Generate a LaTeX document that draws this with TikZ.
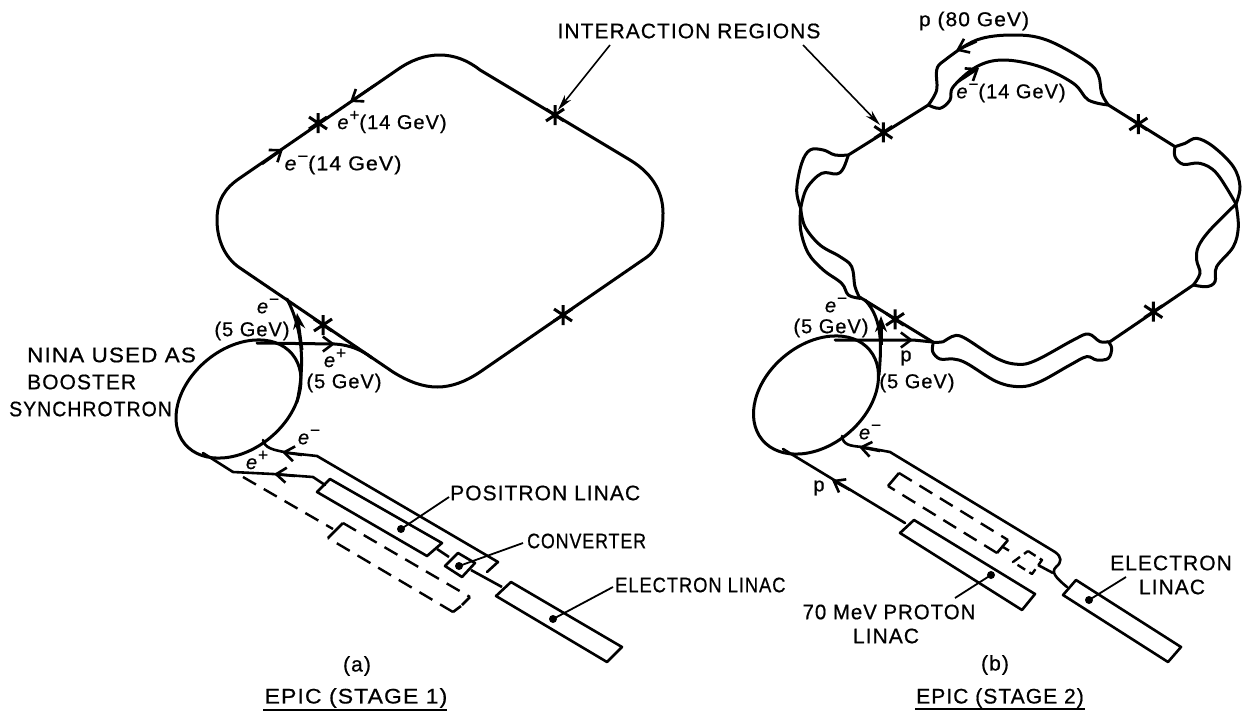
\documentclass[tikz,border=0pt]{standalone}
\usepackage{fontspec}
\setmainfont[LetterSpace=5,FakeBold=0.7]{Liberation Sans}
\usetikzlibrary{arrows.meta,calc}
\newcommand{\elec}[1]{\textit{e}\raisebox{.42em}{\fontsize{17}{17}\selectfont #1}}
\newcommand{\xmark}[1]{\draw[crossmark] ($(#1)+(0,-10)$) -- ($(#1)+(0,10)$) ($(#1)+(-9,-6)$) -- ($(#1)+(9,6)$) ($(#1)+(-9,6)$) -- ($(#1)+(9,-6)$);}
\newcommand{\sx}[2]{\scalebox{#1}[1]{#2}}
\tikzset{
  beam/.style={line width=3pt,line join=round,line cap=round},
  thinbeam/.style={line width=2.6pt,line join=round,line cap=round},
  linac/.style={line width=2.6pt,line join=round},
  dashbox/.style={line width=2.4pt,dash pattern=on 15pt off 9pt,line join=round},
  leader/.style={line width=1.8pt},
  crossmark/.style={line width=3pt},
  barb/.style={line width=2.6pt,-{Straight Barb[length=10pt,width=15pt,line width=2.6pt]}},
  heavy/.style={line width=3pt,-{Stealth[length=16pt,width=12pt]}},
  pointer/.style={line width=1.6pt,-{Stealth[length=16pt,width=8pt]}},
  lbl/.style={font=\fontsize{21}{21}\selectfont,inner sep=0pt},
  small/.style={font=\fontsize{20}{20}\selectfont,inner sep=0pt},
  dotpt/.style={fill=black},
}
\begin{document}
\begin{tikzpicture}[x=1pt,y=-1pt]
\path[use as bounding box] (0,0) rectangle (1258,718);

% ---------- Stage 1 main ring
\draw[beam] (240,178) -- (397,70) .. controls (425,50) and (455,50) .. (480,70)
  -- (630,160) .. controls (655,175) and (663,195) .. (663,213)
  .. controls (663,232) and (660,247) .. (647,257) -- (480,372)
  .. controls (450,392) and (425,392) .. (393,372) -- (240,268)
  .. controls (225,258) and (217,240) .. (217,220)
  .. controls (217,200) and (225,188) .. (240,178) -- cycle;
\coordinate (xa1) at (318,123); \coordinate (xa2) at (555,115);
\coordinate (xa3) at (323,325); \coordinate (xa4) at (563,315);
\xmark{xa1}\xmark{xa2}\xmark{xa3}\xmark{xa4}
\coordinate (aa1) at (375,85); \coordinate (aa2) at (350,102);
\coordinate (ab1) at (262,164); \coordinate (ab2) at (283,149);
\draw[barb] (aa1) -- (aa2);
\draw[barb] (ab1) -- (ab2);

% ---------- Stage 1 booster
\coordinate (ninaA) at (238.5,399);
\draw[beam] (ninaA) ellipse [x radius=70,y radius=50,rotate=40];
\coordinate (ea1) at (257,343); \coordinate (ea2) at (335,344); \coordinate (ea3) at (372,358);
\draw[beam] (ea1) -- (ea2) .. controls (350,345) and (362,350) .. (ea3);
\draw[barb] (300,344) -- (ea2);
\coordinate (eb1) at (297,402); \coordinate (eb2) at (287,299);
\draw[beam] (eb1) .. controls (303,375) and (306,335) .. (eb2);
\draw[heavy] (302,350) -- (297,313);

% ---------- Stage 1 lines
\draw[thinbeam] (263,440) .. controls (265,448) and (272,450) .. (290,453) -- (317,456) -- (498,562) -- (487,572);
\draw[barb] (302,455) -- (282,452);
\draw[thinbeam] (203,453) -- (233,472) -- (273,474) -- (313,477) -- (325,485);
\draw[barb] (295,476) -- (274,474);
\draw[linac] (330,479) -- (442,543) -- (427,556) -- (317,492) -- cycle;
\draw[linac] (437,549) -- (449,557);
\draw[linac] (458,553) -- (475,563) -- (462,577) -- (445,566) -- cycle;
\draw[linac] (471,570) -- (502,587);
\draw[linac] (511,582) -- (622,647) -- (607,662) -- (496,596) -- cycle;
\draw[dashbox] (243,477) -- (333,529);
\draw[linac] (343,523) -- (328,538);
\draw[dashbox] (343,523) -- (470,597);
\draw[linac] (470,597) -- (462,605);
\draw[linac] (453,612) -- (461,606);
\draw[dashbox] (453,612) -- (328,538);

\coordinate (d1) at (401,529); \coordinate (l1) at (449,497);
\coordinate (d2) at (459,566); \coordinate (l2) at (523,543);
\coordinate (d3) at (553,619); \coordinate (l3) at (613,587);
\fill[dotpt] (d1) circle (4) (d2) circle (4) (d3) circle (4);
\draw[leader] (d1) -- (l1);
\draw[leader] (d2) -- (l2);
\draw[leader] (d3) -- (l3);

% ---------- Stage 2 ring (zoom coordinates)
\begin{scope}[shift={(780,0)},x=0.33333pt,y=-0.33333pt]
\draw[beam] (205,465) -- (445,315);
\draw[beam] plot[smooth,tension=0.6] coordinates {(445,315) (470,270) (470,210) (495,180) (590,120) (700,105) (800,120) (920,185) (955,225) (965,280) (985,315)};
\draw[beam] plot[smooth,tension=0.6] coordinates {(445,315) (480,325) (510,300) (520,260) (590,200) (670,180) (780,200) (880,250) (925,300) (985,315)};
\draw[beam] (985,315) -- (1185,440);
\draw[beam] plot[smooth,tension=0.6] coordinates {(1185,440) (1215,430) (1250,415) (1300,440) (1360,500) (1380,560) (1368,612)};
\draw[beam] plot[smooth,tension=0.6] coordinates {(1185,440) (1185,470) (1210,493) (1260,490) (1310,520) (1368,612)};
\draw[beam] plot[smooth,tension=0.6] coordinates {(1368,612) (1375,680) (1360,740) (1310,800) (1305,845) (1280,860) (1240,855)};
\draw[beam] plot[smooth,tension=0.6] coordinates {(1368,612) (1290,690) (1255,740) (1250,780) (1260,820) (1240,855)};
\draw[beam] (1240,855) -- (990,1025);
\draw[beam] plot[smooth,tension=0.6] coordinates {(240,895) (225,860) (215,800) (180,770) (120,735) (75,680) (62,625)};
\draw[beam] plot[smooth,tension=0.6] coordinates {(240,895) (205,885) (185,850) (130,810) (85,760) (62,690) (62,625)};
\draw[beam] plot[smooth,tension=0.6] coordinates {(62,625) (50,570) (65,490) (90,450) (130,450) (165,465) (205,465)};
\draw[beam] plot[smooth,tension=0.6] coordinates {(62,625) (80,565) (125,520) (170,522) (190,505) (205,465)};
\coordinate (xb1) at (310,397); \coordinate (xb2) at (1075,372);
\coordinate (xb3) at (1120,935); \coordinate (xb4) at (345,958);
\coordinate (ba1) at (590,124); \coordinate (ba2) at (528,152);
\coordinate (bb1) at (530,248); \coordinate (bb2) at (597,204);
\end{scope}
\xmark{xb1}\xmark{xb2}\xmark{xb3}\xmark{xb4}
\draw[barb] (ba1) -- (ba2);
\draw[barb] (bb1) -- (bb2);

% ---------- Stage 2 lower straight and junctions
\begin{scope}[shift={(780,280)},x=0.33333pt,y=-0.33333pt]
\draw[beam] plot[smooth,tension=0.6] coordinates {(985,185) (960,185) (925,162) (880,180) (770,240) (715,253) (650,235) (550,172) (515,170) (490,185) (460,187)};
\draw[beam] plot[smooth,tension=0.6] coordinates {(985,185) (995,205) (985,235) (950,240) (920,230) (870,255) (780,305) (720,320) (650,305) (560,250) (520,237) (480,237) (458,215) (460,187)};
\draw[beam] (460,187) -- (240,52);
\end{scope}

% ---------- Stage 2 booster
\coordinate (ninaB) at (816,395);
\draw[beam] (ninaB) ellipse [x radius=70,y radius=50,rotate=40];
\coordinate (fa1) at (835,340); \coordinate (fa2) at (913,340); \coordinate (fa3) at (933,342);
\draw[beam] (fa1) -- (fa2) -- (fa3);
\draw[barb] (890,340) -- (fa2);
\coordinate (fb1) at (879,375); \coordinate (fb2) at (865,300);
\draw[beam] (fb1) .. controls (881,350) and (884,320) .. (fb2);
\draw[heavy] (881,345) -- (881,316);

% ---------- Stage 2 lines
\draw[thinbeam] (783,449) -- (905,523);
\draw[barb] (850,490) -- (832,480);
\draw[linac] (914,520) -- (1035,594) -- (1022,610) -- (900,533) -- cycle;
\draw[thinbeam] (842,436) .. controls (843,445) and (850,446) .. (863,447) -- (890,452) -- (1055,552)
  .. controls (1062,557) and (1062,562) .. (1056,567) .. controls (1051,572) and (1055,577) .. (1067,587);
\draw[barb] (880,451) -- (859,447);
\draw[linac] (1076,580) -- (1181,647) -- (1168,662) -- (1063,595) -- cycle;
\draw[linac] (899,473) -- (888,486);
\draw[dashbox] (899,473) -- (1008,540);
\draw[linac] (1008,540) -- (997,553);
\draw[dashbox] (997,553) -- (888,486);
\draw[dashbox,dash pattern=on 7pt off 5pt] (1003,547) -- (1013,553);
\draw[dashbox,dash pattern=on 9pt off 5pt] (1028,551) -- (1042,560) -- (1032,574) -- (1013,562) -- cycle;
\draw[linac] (1038,565) -- (1053,573);

\coordinate (d4) at (991,575); \coordinate (l4) at (955,598);
\coordinate (d5) at (1089,600); \coordinate (l5) at (1126,577);
\fill[dotpt] (d4) circle (4) (d5) circle (4);
\draw[leader] (d4) -- (l4);
\draw[leader] (d5) -- (l5);

% ---------- Pointers
\node[lbl] (ir) at (689,31) {INTERACTION REGIONS};
\coordinate (ira) at (610,45); \coordinate (irb) at (803,45);
\coordinate (ta) at (558,110); \coordinate (tb) at (880,125);
\draw[pointer] (ira) -- (ta);
\draw[pointer] (irb) -- (tb);

% ---------- Labels, stage 1
\node[small] (t1) at (392,122) {\elec{+}(14 GeV)};
\node[small] (t2) at (343,165) {\sx{1.07}{\elec{−}(14 GeV)}};
\node[small] (t3) at (268,306) {\elec{−}};
\node[small] (t4) at (252,331) {(5 GeV)};
\node[small] (t5) at (335,358) {\elec{+}};
\node[small] (t6) at (344,383) {(5 GeV)};
\node[lbl,anchor=west] (t7) at (27,355) {\sx{1.07}{NINA USED AS}};
\node[lbl,anchor=west] (t8) at (27,382) {BOOSTER};
\node[lbl,anchor=west] (t9) at (9,409) {\sx{.93}{SYNCHROTRON}};
\node[small] (t10) at (309,437) {\elec{−}};
\node[small] (t11) at (257,460) {\elec{+}};
\node[lbl,anchor=west] (t12) at (450,493) {POSITRON LINAC};
\node[lbl,anchor=west] (t13) at (527,541) {\sx{.85}{CONVERTER}};
\node[lbl,anchor=west] (t14) at (615,585) {\sx{.875}{ELECTRON LINAC}};
\node[lbl] (t15) at (357,666) {(a)};
\node[lbl] (t16) at (356,698) {\sx{1.09}{EPIC (STAGE 1)}};
\coordinate (ua1) at (263,710); \coordinate (ua2) at (447,710);
\draw[leader] (ua1) -- (ua2);

% ---------- Labels, stage 2
\node[small] (s1) at (974,21) {\sx{1.05}{p (80 GeV)}};
\node[small] (s2) at (1011,93) {\elec{−}(14 GeV)};
\node[small] (s3) at (836,305) {\elec{−}};
\node[small] (s4) at (831,328) {(5 GeV)};
\node[small] (s5) at (906,358) {p};
\node[small] (s6) at (917,383) {(5 GeV)};
\node[small] (s7) at (870,432) {\elec{−}};
\node[small] (s8) at (819,488) {p};
\node[lbl] (s9) at (889,612) {\sx{.97}{70 MeV PROTON}};
\node[lbl] (s10) at (886,636) {LINAC};
\node[lbl] (s11) at (1171,563) {ELECTRON};
\node[lbl] (s12) at (1172,587) {LINAC};
\node[lbl] (s13) at (995,665) {(b)};
\node[lbl] (s14) at (1000,698) {EPIC (STAGE 2)};
\coordinate (ub1) at (915,709); \coordinate (ub2) at (1085,709);
\draw[leader] (ub1) -- (ub2);
\end{tikzpicture}
\end{document}
